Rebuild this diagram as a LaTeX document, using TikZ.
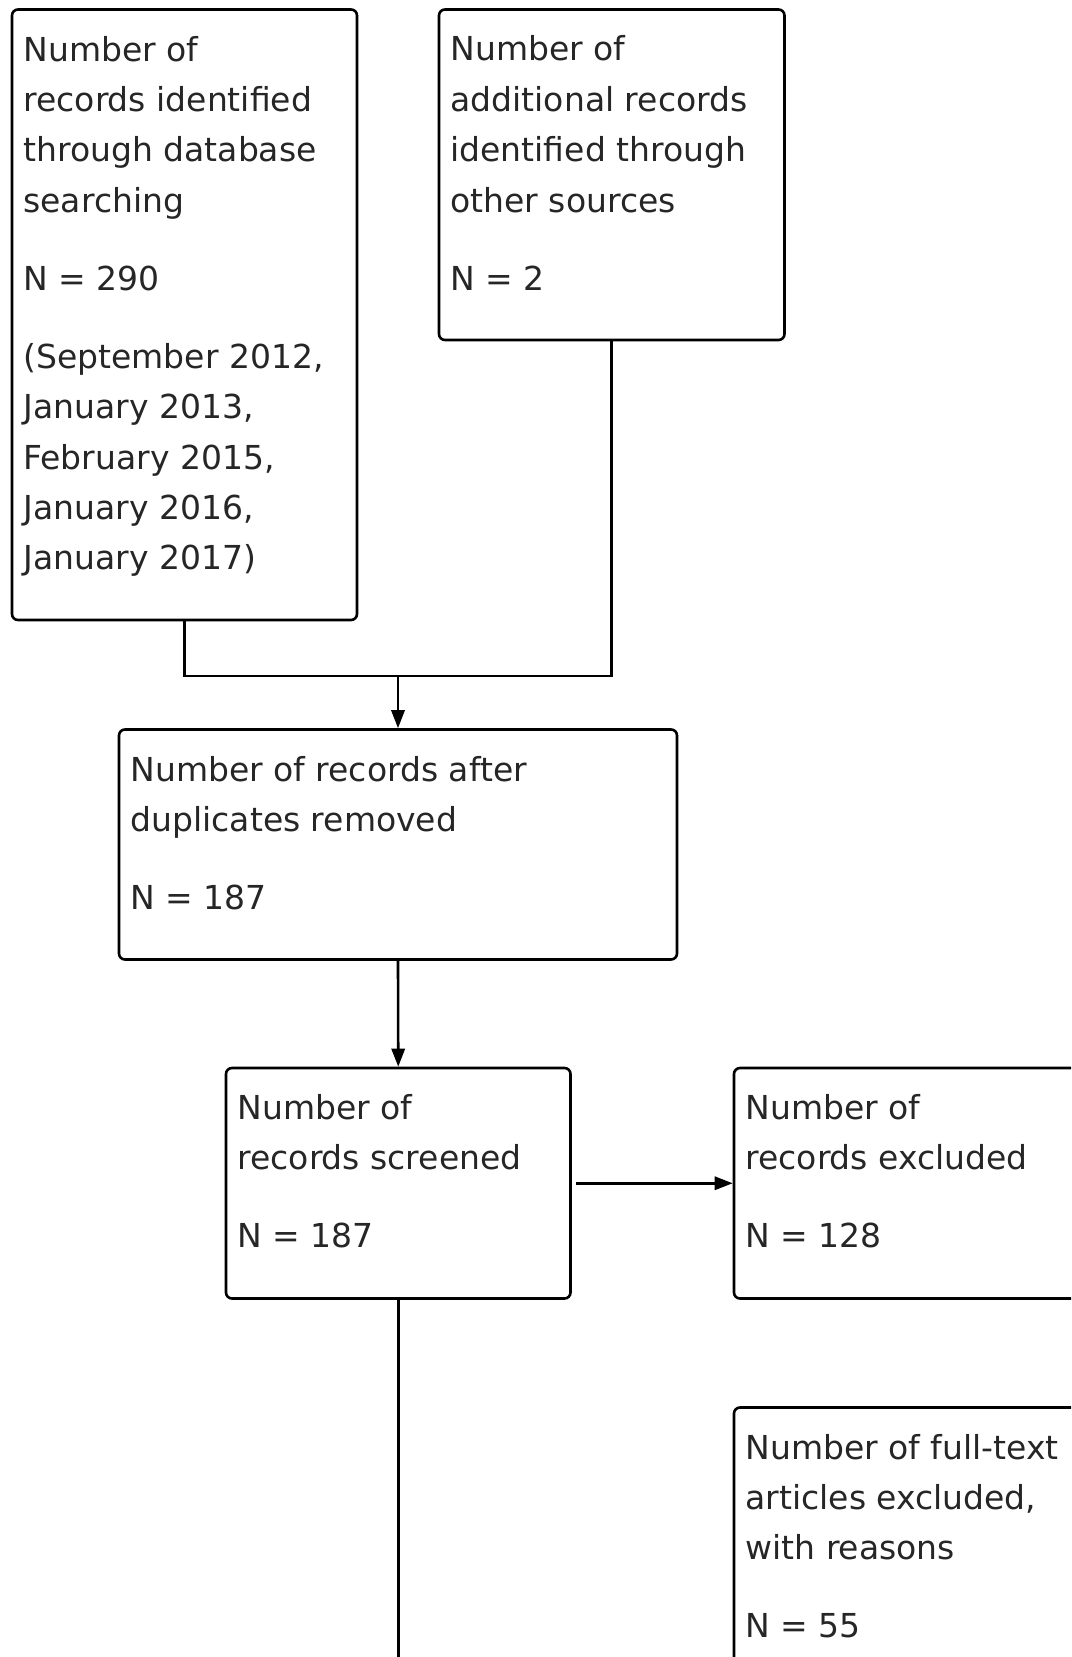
\documentclass[tikz,border=0pt]{standalone}
\usepackage{fontspec}
\setmainfont{DejaVu Sans}
\usetikzlibrary{fit, arrows.meta}
\newcommand{\topstrut}{\rule{0pt}{8pt}}

\begin{document}
\begin{tikzpicture}[x=0.25pt, y=-0.25pt,
    box/.style={draw, line width=0.65pt, rounded corners=1.5pt, inner sep=0pt},
    txt/.style={anchor=north west, inner sep=0pt, align=left, text=black!85, font=\fontsize{8.25}{12.6}\selectfont},
    link/.style={line width=0.65pt},
    arrow/.style={link, -{Triangle[length=4.5pt, width=3.3pt]}}]
    \useasboundingbox (0,0) rectangle (1071,1657);
    \clip (0,0) rectangle (1071,1657);
    % Draw the boxes
    \node[box, fit={(12,9.5) (357,620)}] (dbase) {};
    \node[box, fit={(439,9.5) (784.5,340)}] (other) {};
    \node[box, fit={(119,729.5) (677,959.5)}] (dedup) {};
    \node[box, fit={(226,1068) (570.5,1298.5)}] (screen) {};
    \node[box, fit={(734,1068) (1100,1298.5)}] (exclRec) {};
    \node[box, fit={(734,1407.5) (1100,1720)}] (exclFull) {};
    % Box texts
    \node[txt] (dbaseTxt) at ([shift={(3pt,-5pt)}]dbase.north west) {\topstrut Number of\\records identified\\through database\\searching\\[6.9pt]N = 290\\[6.9pt](September 2012,\\January 2013,\\February 2015,\\January 2016,\\January 2017)};
    \node[txt] (otherTxt) at ([shift={(3pt,-5pt)}]other.north west) {\topstrut Number of\\additional records\\identified through\\other sources\\[6.9pt]N = 2};
    \node[txt] (dedupTxt) at ([shift={(3pt,-5pt)}]dedup.north west) {\topstrut Number of records after\\duplicates removed\\[6.9pt]N = 187};
    \node[txt] (screenTxt) at ([shift={(3pt,-5pt)}]screen.north west) {\topstrut Number of\\records screened\\[6.9pt]N = 187};
    \node[txt] (exclRecTxt) at ([shift={(3pt,-5pt)}]exclRec.north west) {\topstrut Number of\\records excluded\\[6.9pt]N = 128};
    \node[txt] (exclFullTxt) at ([shift={(3pt,-5pt)}]exclFull.north west) {\topstrut Number of full-text\\articles excluded,\\with reasons\\[6.9pt]N = 55};
    % Connectors
    \coordinate (join) at (dedup.north |- 0,676);
    \coordinate (tail) at (screen.south |- 0,1680);
    \draw[link] (dbase.south) |- (join) -| (other.south);
    \draw[arrow] (join) -- (dedup.north);
    \draw[arrow] (dedup.south) -- (screen.north);
    \draw[arrow, shorten <=1pt] (screen.east) -- (exclRec.west);
    \draw[link] (screen.south) -- (tail);
\end{tikzpicture}
\end{document}
